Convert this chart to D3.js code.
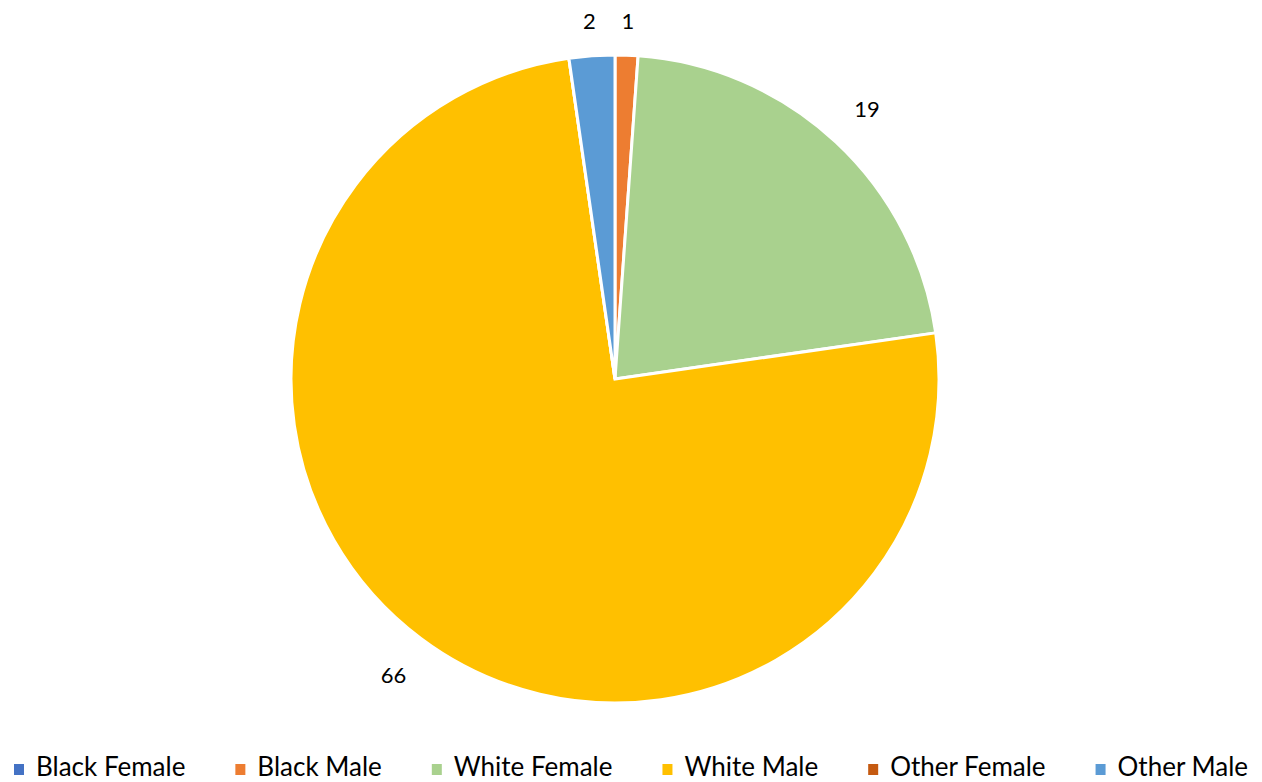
<!DOCTYPE html>
<html>
<head>
<meta charset="utf-8">
<script src="https://cdn.jsdelivr.net/npm/d3@7"></script>
<style>
  html, body { margin: 0; padding: 0; background: #fff; }
  svg { display: block; }
  text { font-family: Lato, "Open Sans", sans-serif; fill: #000; }
</style>
</head>
<body>
<svg id="chart" width="1262" height="782"></svg>
<script>
const categories = ["Black Female", "Black Male", "White Female", "White Male", "Other Female", "Other Male"];
const values = [0, 1, 19, 66, 0, 2];
const colors = ["#4472C4", "#ED7D31", "#A9D18E", "#FFC000", "#C55A11", "#5B9BD5"];

const W = 1262, H = 782;
const cx = 615, cy = 379, R = 324;

const svg = d3.select("#chart");
const data = categories.map((c, i) => ({ name: c, value: values[i], color: colors[i] }));

const pie = d3.pie().value(d => d.value).sort(null);
const arcs = pie(data);
const arc = d3.arc().innerRadius(0).outerRadius(R);

const g = svg.append("g").attr("transform", `translate(${cx},${cy})`);
g.selectAll("path.slice")
  .data(arcs)
  .join("path")
  .attr("class", "slice")
  .attr("d", arc)
  .attr("fill", d => d.data.color)
  .attr("stroke", "#fff")
  .attr("stroke-width", 3)
  .attr("stroke-linejoin", "miter");

// data labels outside end (only non-zero)
function labelPos(d) {
  const a = (d.startAngle + d.endAngle) / 2;
  const r = R + 34 + 12 * Math.abs(Math.sin(2 * a));
  return [r * Math.sin(a), -r * Math.cos(a)];
}
g.selectAll("text.lbl")
  .data(arcs.filter(d => d.data.value > 0))
  .join("text")
  .attr("class", "lbl")
  .attr("font-size", 22)
  .attr("text-anchor", "middle")
  .attr("dominant-baseline", "central")
  .attr("x", d => labelPos(d)[0])
  .attr("y", d => labelPos(d)[1])
  .text(d => d.data.value);

// legend
const legend = svg.append("g");
const fs = 26, sq = 10, gapMT = 12;
const legendLeft = 14, legendRight = 1248, baseline = 776;
const items = legend.selectAll("g.item").data(data).join("g").attr("class", "item");
items.append("rect").attr("width", sq).attr("height", sq + 1).attr("y", -12).attr("fill", d => d.color);
items.append("text").attr("x", sq + gapMT).attr("font-size", fs).text(d => d.name);
const widths = [];
items.each(function () {
  const t = d3.select(this).select("text").node().getComputedTextLength();
  widths.push(sq + gapMT + t);
});
const sumW = widths.reduce((a, b) => a + b, 0);
const gapItem = ((legendRight - legendLeft) - sumW) / (widths.length - 1);
let pos = legendLeft;
items.attr("transform", (d, i) => {
  const t = `translate(${pos},${baseline})`;
  pos += widths[i] + gapItem;
  return t;
});
</script>
</body>
</html>
